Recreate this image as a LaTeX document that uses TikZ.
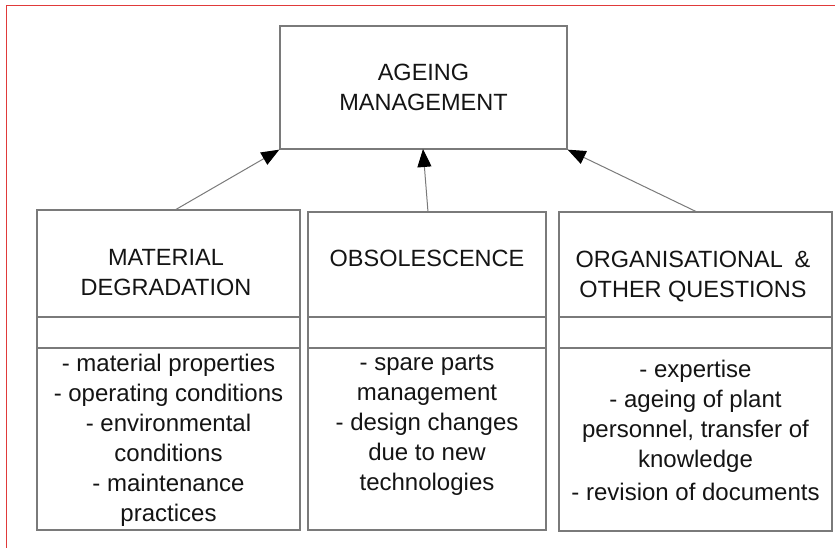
\documentclass[tikz,border=0pt]{standalone}
\usepackage{fontspec}
\setmainfont{Liberation Sans}
\usetikzlibrary{arrows.meta}
\definecolor{linegray}{HTML}{7A7A7A}
\definecolor{txt}{HTML}{141414}
\definecolor{frame}{HTML}{E03A3A}
\newcommand\tp{\rule{0pt}{17pt}}
\tikzset{
  boxstyle/.style={draw=linegray, line width=1.3pt, inner sep=0pt},
  headtext/.style={anchor=north, align=center, inner sep=0pt, text=txt, font=\fontsize{23.5}{30}\selectfont},
  bodytext/.style={anchor=north, align=center, inner sep=0pt, text=txt, font=\fontsize{24}{30}\selectfont},
  divider/.style={draw=linegray, line width=1.3pt},
  link/.style={draw=linegray, line width=1pt, -{Triangle[length=18pt,width=14pt,fill=black,color=black]}}
}
\begin{document}
\begin{tikzpicture}[x=1pt,y=-1pt]
\useasboundingbox (0,0) rectangle (835,548);
% frame
\draw[frame, line width=1.5pt] (6.5,548) -- (6.5,5.5) -- (835,5.5);
% top box
\node[boxstyle, minimum width=287pt, minimum height=123pt] (am) at (423.5,87.5) {};
\node[headtext] (amt) at (423.5,63) {\tp AGEING\\MANAGEMENT};
% bottom boxes
\node[boxstyle, minimum width=263pt, minimum height=320pt] (md) at (168.5,370) {};
\node[boxstyle, minimum width=238pt, minimum height=318pt] (ob) at (427,371) {};
\node[boxstyle, minimum width=273pt, minimum height=319pt] (oq) at (695.5,371.5) {};
% dividers
\foreach \b in {md,ob,oq}{
  \draw[divider] (\b.west |- 0,317) -- (\b.east |- 0,317);
  \draw[divider] (\b.west |- 0,348) -- (\b.east |- 0,348);
}
% headers
\node[headtext] (mdh) at (166,248) {\tp MATERIAL\\DEGRADATION};
\node[headtext] (obh) at (427,249) {\tp OBSOLESCENCE};
\node[headtext] (oqh) at (693,250) {\tp ORGANISATIONAL\hspace{0.5em}\&\\OTHER QUESTIONS};
% bodies
\node[bodytext] (mdb) at (168.5,354) {\tp - material properties\\- operating conditions\\- environmental\\conditions\\- maintenance\\practices};
\node[bodytext] (obb) at (427,353) {\tp - spare parts\\management\\- design changes\\due to new\\technologies};
\node[bodytext] (oqb) at (695.5,360) {\tp - expertise\\- ageing of plant\\personnel, transfer of\\knowledge\\[3pt]- revision of documents};
% connectors
\coordinate (mds) at (175,210);
\coordinate (obs) at (428,212);
\coordinate (oqs) at (697,212);
\coordinate (amtip) at (423,149);
\draw[link] (mds) -- (am.south west);
\draw[link] (obs) -- (amtip);
\draw[link] (oqs) -- (am.south east);
\end{tikzpicture}
\end{document}
